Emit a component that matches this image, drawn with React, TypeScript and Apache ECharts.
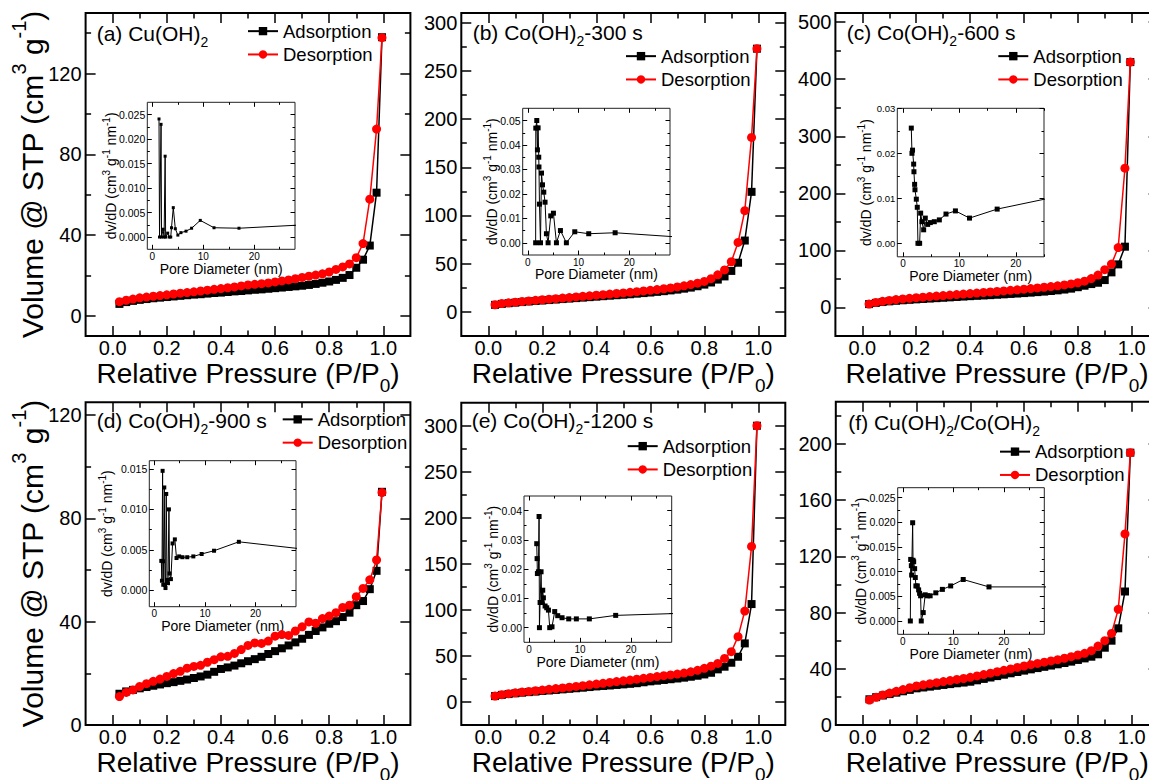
import React, { useEffect, useRef } from 'react';
import * as echarts from 'echarts';

// ---------------- DATA ----------------
const P = [0.025, 0.05, 0.075, 0.1, 0.125, 0.15, 0.175, 0.2, 0.225, 0.25, 0.275, 0.3, 0.325, 0.35, 0.375, 0.4, 0.425, 0.45, 0.475, 0.5, 0.525, 0.55, 0.575, 0.6, 0.625, 0.65, 0.675, 0.7, 0.725, 0.75, 0.775, 0.8, 0.825, 0.85, 0.875, 0.9, 0.925, 0.95, 0.975, 0.995];

const adsA = [5.9, 6.8, 7.4, 7.9, 8.3, 8.7, 9.0, 9.3, 9.6, 9.9, 10.2, 10.5, 10.7, 11.0, 11.3, 11.5, 11.8, 12.1, 12.3, 12.6, 12.9, 13.1, 13.4, 13.7, 14.0, 14.3, 14.6, 14.9, 15.3, 15.8, 16.4, 17.0, 17.8, 18.8, 20.2, 23.8, 27.8, 34.8, 61.0, 138.0];
const desA = [7.0, 7.7, 8.3, 8.9, 9.3, 9.7, 10.0, 10.4, 10.8, 11.2, 11.5, 11.9, 12.3, 12.7, 13.1, 13.5, 13.9, 14.3, 14.8, 15.3, 15.6, 15.9, 16.3, 16.8, 17.3, 17.8, 18.4, 19.0, 19.6, 20.2, 20.8, 21.7, 23.0, 24.2, 25.7, 28.8, 35.8, 57.8, 92.5, 137.8];

const adsB = [7.3, 8.3, 9.0, 9.6, 10.2, 10.8, 11.3, 11.8, 12.3, 12.8, 13.3, 13.8, 14.3, 14.8, 15.3, 15.8, 16.3, 16.8, 17.3, 17.8, 18.3, 18.9, 19.5, 20.1, 20.8, 21.5, 22.3, 23.1, 24.1, 25.2, 26.6, 28.3, 30.5, 33.5, 36.8, 42.5, 51, 74, 124.5, 273];
const desB = [7.4, 8.6, 9.4, 10.1, 10.8, 11.4, 12.0, 12.6, 13.2, 13.7, 14.3, 14.9, 15.5, 16.1, 16.7, 17.3, 17.9, 18.5, 19.1, 19.7, 20.3, 21.0, 21.7, 22.4, 23.2, 24.0, 24.9, 25.9, 27.0, 28.3, 29.8, 31.6, 34.5, 38.5, 43.5, 52, 72, 105, 181, 273];

const adsC = [5.9, 8.0, 9.5, 10.7, 11.7, 12.6, 13.4, 14.2, 14.9, 15.6, 16.3, 17.0, 17.7, 18.4, 19.1, 19.8, 20.4, 21.0, 21.6, 22.3, 23.0, 23.7, 24.4, 25.2, 26.0, 26.9, 27.8, 28.8, 30.0, 31.4, 33.0, 35.5, 38.1, 41.0, 43.3, 48.0, 61.5, 75.5, 106.5, 430];
const desC = [5.9, 8.8, 10.8, 12.4, 13.8, 15.0, 16.1, 17.1, 18.1, 19.0, 19.9, 20.8, 21.7, 22.6, 23.5, 24.4, 25.3, 26.2, 27.1, 28.0, 29.0, 30.0, 31.0, 32.0, 33.1, 34.2, 35.4, 36.6, 38.0, 39.5, 41.2, 43.3, 46.0, 50.6, 56.8, 66.2, 76.0, 105, 244, 430];

const adsD = [12.1, 13.0, 13.6, 14.2, 14.7, 15.2, 15.7, 16.2, 16.6, 17.1, 17.6, 18.2, 18.8, 19.5, 20.6, 21.7, 22.3, 23.0, 23.9, 24.7, 25.5, 26.4, 27.5, 28.6, 29.7, 30.8, 32.0, 33.4, 34.9, 36.4, 37.8, 39.2, 40.2, 41.8, 43.5, 46.4, 48.0, 52.6, 59.7, 90.3];
const desD = [11.0, 12.6, 13.6, 14.9, 16.0, 16.9, 17.8, 18.8, 19.9, 20.8, 22.0, 22.7, 23.1, 24.3, 25.3, 26.4, 26.6, 27.7, 29.2, 30.8, 31.8, 31.6, 32.5, 34.4, 35.0, 34.7, 36.4, 38.0, 39.9, 39.4, 41.2, 42.2, 43.5, 45.5, 46.4, 49.7, 52.9, 56.2, 63.9, 90.0];

const adsE = [6.5, 7.8, 8.7, 9.5, 10.2, 10.8, 11.4, 12.0, 12.6, 13.2, 13.8, 14.4, 15.0, 15.6, 16.3, 17.0, 17.5, 18.0, 18.6, 19.2, 19.8, 20.5, 21.5, 22.5, 23.2, 24.0, 24.8, 25.6, 26.5, 27.5, 28.6, 30.0, 31.8, 35.5, 38.4, 42.7, 49.2, 63.7, 106.4, 300];
const desE = [6.5, 8.0, 9.1, 10.0, 10.8, 11.6, 12.3, 13.0, 13.8, 14.6, 15.4, 16.2, 17.0, 17.8, 18.7, 19.5, 20.4, 21.3, 22.2, 23.1, 23.9, 24.8, 25.8, 26.8, 27.7, 28.6, 29.5, 30.4, 31.5, 32.8, 34.5, 36.6, 39.0, 42.0, 47.4, 54.7, 71.0, 98.8, 169, 300];

const adsF = [18.3, 19.8, 21.0, 22.0, 23.0, 24.0, 25.0, 26.1, 26.7, 27.3, 27.9, 28.5, 29.1, 29.7, 30.2, 30.8, 31.8, 32.8, 33.8, 34.8, 35.8, 36.8, 37.7, 38.7, 39.6, 40.5, 41.4, 42.3, 43.2, 44.1, 45.1, 46.3, 47.4, 48.6, 50.3, 55.0, 60.0, 68.8, 95.0, 193.8];
const desF = [17.8, 19.7, 21.4, 22.7, 24.0, 25.2, 26.5, 27.8, 28.6, 29.4, 30.1, 30.9, 31.6, 32.4, 33.1, 33.9, 34.9, 35.9, 36.9, 37.9, 38.9, 39.9, 41.0, 42.0, 42.9, 43.8, 44.7, 45.6, 46.5, 47.5, 48.6, 49.8, 51.0, 52.9, 56.2, 60.0, 65.2, 82.3, 136, 193.8];

// Pore size distributions (insets)
const poreA = [1.3, 1.4, 1.7, 1.8, 2.1, 2.3, 2.5, 2.6, 3.0, 3.3, 3.6, 3.75, 4.1, 4.5, 5.0, 5.6, 6.6, 7.7, 9.4, 12.1, 17.0, 40];
const dvA = [0.0241, 0, 0.023, 0, 0.0016, 0, 0.0165, 0, 0.0008, 0, 0, 0.0019, 0.006, 0.0017, 0.0004, 0.0009, 0.0012, 0.0018, 0.0034, 0.0019, 0.0018, 0.00305];

const poreB = [1.55, 1.58, 1.77, 1.9, 2.03, 2.16, 2.2, 2.3, 2.5, 2.7, 2.9, 3.15, 3.4, 3.67, 4.0, 4.52, 5.05, 5.64, 6.43, 7.6, 9.25, 12.0, 17.2, 40];
const dvB = [0, 0.0469, 0.05, 0.038, 0.047, 0.035, 0.031, 0.0158, 0, 0.0285, 0.0237, 0.0207, 0.0166, 0.0037, 0, 0.011, 0.0121, 0, 0.005, 0, 0.0045, 0.0037, 0.0041, 0.0009];

const poreC = [1.48, 1.6, 1.7, 1.9, 1.95, 2.07, 2.13, 2.37, 2.54, 2.66, 2.96, 3.14, 3.37, 3.67, 3.96, 4.38, 4.85, 5.56, 6.45, 7.63, 9.3, 11.8, 16.7, 35];
const dvC = [0.0256, 0.02, 0.0207, 0.0176, 0.0159, 0.0131, 0.0119, 0.0098, 0.008, 0, 0, 0.0067, 0.0048, 0.003, 0.0056, 0.0042, 0.0046, 0.0048, 0.0052, 0.0065, 0.0072, 0.0056, 0.0076, 0.0124];

const poreD = [1.37, 1.5, 1.63, 1.7, 1.76, 1.96, 2.1, 2.2, 2.35, 2.5, 2.7, 2.88, 3.0, 3.27, 3.6, 4.05, 4.38, 4.9, 5.55, 6.5, 7.7, 9.35, 11.8, 16.7, 40];
const dvD = [0.00365, 0.0012, 0.01475, 0.0036, 0.0007, 0.0127, 0.0007, 0.0003, 0.0119, 0.0013, 0.0009, 0.01, 0.0021, 0.0014, 0.0058, 0.0063, 0.004, 0.0042, 0.0041, 0.0041, 0.0042, 0.0045, 0.0049, 0.006, 0.00436];

const poreE = [1.5, 1.57, 1.63, 1.83, 1.96, 2.03, 2.16, 2.35, 2.48, 2.68, 2.81, 3.14, 3.46, 3.8, 4.05, 4.5, 5.03, 5.62, 6.47, 7.78, 9.28, 11.83, 17, 40];
const dvE = [0.0287, 0.0236, 0.0185, 0.0191, 0.038, 0, 0.0086, 0.0191, 0.0086, 0.0128, 0.0102, 0.0074, 0.0068, 0.006, 0, 0.0003, 0.0055, 0.0041, 0.0034, 0.003, 0.003, 0.003, 0.0042, 0.00545];

const poreF = [1.5, 1.57, 1.7, 1.76, 1.96, 2.03, 2.16, 2.35, 2.48, 2.6, 2.88, 3.14, 3.33, 3.53, 3.66, 4.05, 4.44, 4.9, 5.42, 6.54, 7.84, 9.48, 11.96, 17.06, 40];
const dvF = [0, 0.01247, 0.0112, 0.0093, 0.0199, 0.0123, 0.012, 0.0106, 0.0088, 0.0071, 0.0071, 0.0063, 0.0056, 0.0051, 0, 0.0017, 0.0053, 0.0051, 0.0051, 0.0057, 0.0064, 0.0071, 0.0084, 0.0069, 0.0069];

// Tick labels
const X_MAIN_LABELS = [0, 0.2, 0.4, 0.6, 0.8, 1.0];
const X_MAIN_MINOR = [0.1, 0.3, 0.5, 0.7, 0.9];
const Y_A_LABELS = [0, 40, 80, 120];
const Y_A_MINOR = [20, 60, 100, 140];
const Y_B_LABELS = [0, 50, 100, 150, 200, 250, 300];
const Y_B_MINOR = [25, 75, 125, 175, 225, 275];
const Y_C_LABELS = [0, 100, 200, 300, 400, 500];
const Y_C_MINOR = [50, 150, 250, 350, 450];
const Y_D_LABELS = [0, 40, 80, 120];
const Y_D_MINOR = [20, 60, 100];
const Y_E_LABELS = [0, 50, 100, 150, 200, 250, 300];
const Y_E_MINOR = [25, 75, 125, 175, 225, 275];
const Y_F_LABELS = [0, 40, 80, 120, 160, 200];
const Y_F_MINOR = [20, 60, 100, 140, 180, 220];
const X_IN_LABELS = [0, 10, 20];
const X_IN_MINOR = [5, 15, 25];
const YI_A_LABELS = [0, 0.005, 0.01, 0.015, 0.02, 0.025];
const YI_A_MINOR = [0.0025, 0.0075, 0.0125, 0.0175, 0.0225];
const YI_B_LABELS = [0, 0.01, 0.02, 0.03, 0.04, 0.05];
const YI_B_MINOR = [0.005, 0.015, 0.025, 0.035, 0.045];
const YI_C_LABELS = [0, 0.01, 0.02, 0.03];
const YI_C_MINOR = [0.005, 0.015, 0.025];
const YI_D_LABELS = [0, 0.005, 0.01, 0.015];
const YI_D_MINOR = [0.0025, 0.0075, 0.0125];
const YI_E_LABELS = [0, 0.01, 0.02, 0.03, 0.04];
const YI_E_MINOR = [0.005, 0.015, 0.025, 0.035];
const YI_F_LABELS = [0, 0.005, 0.01, 0.015, 0.02, 0.025];
const YI_F_MINOR = [0.0025, 0.0075, 0.0125, 0.0175, 0.0225];

const LABELS = [
  '{n|(a) Cu(OH)}{s|2}',
  '{n|(b) Co(OH)}{s|2}{n|-300 s}',
  '{n|(c) Co(OH)}{s|2}{n|-600 s}',
  '{n|(d) Co(OH)}{s|2}{n|-900 s}',
  '{n|(e) Co(OH)}{s|2}{n|-1200 s}',
  '{n|(f) Cu(OH)}{s|2}{n|/Co(OH)}{s|2}',
];

// ---------------- LAYOUT ----------------
const FONT = "'Liberation Sans', Arial, Helvetica, sans-serif";

const PANELS: any[] = [
  { g: [85.6, 13, 324.8, 323], y: [-10, 150], yl: Y_A_LABELS, ym: Y_A_MINOR, yName: true, ads: adsA, des: desA, lp: [96.7, 17.5], leg: [247, 19.5],
    ig: [147.3, 102.3, 147.7, 147], ix: [-1, 28], iy: [-0.0025, 0.0275], iyl: YI_A_LABELS, iym: YI_A_MINOR, idec: 3, iGap: 26, ifs: 10.5, iD: poreA, iV: dvA, isz: 3 },
  { g: [461.3, 13, 324, 323], y: [-25, 310], yl: Y_B_LABELS, ym: Y_B_MINOR, yName: false, ads: adsB, des: desB, lp: [472.7, 17], leg: [625, 44.5],
    ig: [522.7, 108.3, 147.3, 146.7], ix: [-1, 28], iy: [-0.005, 0.055], iyl: YI_B_LABELS, iym: YI_B_MINOR, idec: 2, iGap: 20.5, ifs: 10.5, iD: poreB, iV: dvB, isz: 5 },
  { g: [835.4, 13, 323.2, 323], y: [-50, 516], yl: Y_C_LABELS, ym: Y_C_MINOR, yName: false, ads: adsC, des: desC, lp: [846.7, 17], leg: [997.3, 44.5],
    ig: [897.3, 108.3, 146.7, 148.5], ix: [-1, 25], iy: [-0.003, 0.03], iyl: YI_C_LABELS, iym: YI_C_MINOR, idec: 2, iGap: 21, ifs: 9.5, iD: poreC, iV: dvC, isz: 5 },
  { g: [85.6, 402.2, 324.8, 322.8], y: [0, 125], yl: Y_D_LABELS, ym: Y_D_MINOR, yName: true, ads: adsD, des: desD, lp: [96.7, 404.5], leg: [281.7, 407.7],
    ig: [149.3, 460.7, 146.7, 146], ix: [-1, 28], iy: [-0.002, 0.016], iyl: YI_D_LABELS, iym: YI_D_MINOR, idec: 3, iGap: 32, ifs: 10.5, iD: poreD, iV: dvD, isz: 4 },
  { g: [461.3, 402.7, 324, 322.4], y: [-25, 325], yl: Y_E_LABELS, ym: Y_E_MINOR, yName: false, ads: adsE, des: desE, lp: [471.7, 405.3], leg: [626.7, 434.5],
    ig: [524, 496, 147.7, 146.3], ix: [-1, 28], iy: [-0.005, 0.045], iyl: YI_E_LABELS, iym: YI_E_MINOR, idec: 2, iGap: 21, ifs: 10.5, iD: poreE, iV: dvE, isz: 5 },
  { g: [835.8, 401.8, 322.8, 323.2], y: [0, 230], yl: Y_F_LABELS, ym: Y_F_MINOR, yName: false, ads: adsF, des: desF, lp: [848.3, 407], leg: [999, 440],
    ig: [897.7, 487.7, 146.6, 146.6], ix: [-1, 28], iy: [-0.0027, 0.027], iyl: YI_F_LABELS, iym: YI_F_MINOR, idec: 3, iGap: 27, ifs: 10.5, iD: poreF, iV: dvF, isz: 5 },
];

function axisSet(dim: 'x' | 'y', grid: number, s: any) {
  const p1 = dim === 'x' ? 'bottom' : 'left';
  const p2 = dim === 'x' ? 'top' : 'right';
  const base = (position: string, ticks: number[], len: number, labels: boolean) => ({
    type: 'value',
    gridIndex: grid,
    position,
    min: s.min,
    max: s.max,
    axisLine: { show: false, onZero: false },
    splitLine: { show: false },
    axisPointer: { show: false },
    nameMoveOverlap: false,
    axisTick: { show: true, inside: true, length: len, customValues: ticks, lineStyle: { color: '#000', width: s.w } },
    axisLabel: labels
      ? { show: true, customValues: s.labels, formatter: (v: number) => v.toFixed(s.dec), fontSize: s.fs, fontFamily: FONT, color: '#000', margin: s.margin, hideOverlap: false }
      : { show: false },
  });
  const prim: any = base(p1, s.labels, s.majLen, true);
  if (s.name) {
    prim.name = s.name;
    prim.nameLocation = 'middle';
    prim.nameGap = s.nameGap;
    prim.nameTextStyle = s.nameStyle;
  }
  return [prim, base(p1, s.minor, s.minLen, false), base(p2, s.labels, s.majLen, false), base(p2, s.minor, s.minLen, false)];
}

const xNameStyle = {
  fontSize: 28, fontFamily: FONT, color: '#000',
  rich: {
    n: { fontSize: 28, fontFamily: FONT, color: '#000', lineHeight: 26 },
    s: { fontSize: 19, fontFamily: FONT, color: '#000', lineHeight: 43, verticalAlign: 'bottom' },
  },
};
const yNameStyle = {
  fontSize: 30, fontFamily: FONT, color: '#000',
  rich: {
    n: { fontSize: 30, fontFamily: FONT, color: '#000', lineHeight: 30 },
    p: { fontSize: 20, fontFamily: FONT, color: '#000', lineHeight: 47, verticalAlign: 'top' },
  },
};
const iyNameStyle = {
  fontSize: 14, fontFamily: FONT, color: '#000',
  rich: {
    n: { fontSize: 14, fontFamily: FONT, color: '#000', lineHeight: 16 },
    p: { fontSize: 10, fontFamily: FONT, color: '#000', lineHeight: 20, verticalAlign: 'top' },
  },
};
const ixNameStyle = { fontSize: 14, fontFamily: FONT, color: '#000', lineHeight: 14 };

function buildOption() {
  const grid: any[] = [];
  const xAxis: any[] = [];
  const yAxis: any[] = [];
  const series: any[] = [];
  const title: any[] = [];
  const legend: any[] = [];

  PANELS.forEach((p, i) => {
    const gm = grid.length;
    grid.push({ left: p.g[0], top: p.g[1], width: p.g[2], height: p.g[3], show: true, borderColor: '#000', borderWidth: 2, backgroundColor: 'transparent', containLabel: false, outerBoundsMode: 'none' });
    const xa = xAxis.length;
    xAxis.push(...axisSet('x', gm, {
      min: -0.1, max: 1.1, labels: X_MAIN_LABELS, minor: X_MAIN_MINOR, dec: 1, fs: 20, margin: 2, majLen: 10, minLen: 5.5, w: 1.5,
      name: '{n|Relative Pressure (P/P}{s|0}{n|)}', nameGap: 15.5, nameStyle: xNameStyle,
    }));
    const ya = yAxis.length;
    yAxis.push(...axisSet('y', gm, {
      min: p.y[0], max: p.y[1], labels: p.yl, minor: p.ym, dec: 0, fs: 20, margin: 4, majLen: 10, minLen: 5.5, w: 1.5,
      name: p.yName ? '{n|Volume @ STP (cm}{p|3}{n| g}{p|-1}{n|)}' : undefined, nameGap: 30, nameStyle: yNameStyle,
    }));
    series.push({
      type: 'line', name: 'Adsorption', xAxisIndex: xa, yAxisIndex: ya, data: P.map((v, k) => [v, p.ads[k]]),
      symbol: 'rect', symbolSize: 8, showAllSymbol: true, itemStyle: { color: '#000' }, lineStyle: { color: '#000', width: 1.5 },
      silent: true, emphasis: { disabled: true }, z: 3,
    });
    series.push({
      type: 'line', name: 'Desorption', xAxisIndex: xa, yAxisIndex: ya, data: P.map((v, k) => [v, p.des[k]]),
      symbol: 'circle', symbolSize: 9, showAllSymbol: true, itemStyle: { color: '#ff0000' }, lineStyle: { color: '#ff0000', width: 1.5 },
      silent: true, emphasis: { disabled: true }, z: 4,
    });

    // inset
    const gi = grid.length;
    grid.push({ left: p.ig[0], top: p.ig[1], width: p.ig[2], height: p.ig[3], show: true, borderColor: '#222', borderWidth: 1, backgroundColor: 'transparent', containLabel: false, outerBoundsMode: 'none' });
    const xi = xAxis.length;
    xAxis.push(...axisSet('x', gi, {
      min: p.ix[0], max: p.ix[1], labels: X_IN_LABELS, minor: X_IN_MINOR, dec: 0, fs: 10, margin: 2, majLen: 4.5, minLen: 2.5, w: 1,
      name: 'Pore Diameter (nm)', nameGap: 12.2, nameStyle: ixNameStyle,
    }));
    const yi = yAxis.length;
    yAxis.push(...axisSet('y', gi, {
      min: p.iy[0], max: p.iy[1], labels: p.iyl, minor: p.iym, dec: p.idec, fs: p.ifs, margin: 2, majLen: 4.5, minLen: 2.5, w: 1,
      name: '{n|dv/dD (cm}{p|3}{n| g}{p|-1}{n| nm}{p|-1}{n|)}', nameGap: p.iGap, nameStyle: iyNameStyle,
    }));
    series.push({
      type: 'line', name: 'PSD' + i, xAxisIndex: xi, yAxisIndex: yi, data: p.iD.map((v: number, k: number) => [v, p.iV[k]]),
      symbol: 'rect', symbolSize: p.isz, showAllSymbol: true, itemStyle: { color: '#000' }, lineStyle: { color: '#000', width: 1 },
      silent: true, emphasis: { disabled: true }, clip: true, z: 3,
    });

    title.push({
      text: LABELS[i], left: p.lp[0], top: p.lp[1], padding: 0,
      textStyle: {
        fontSize: 21, fontWeight: 'normal', fontFamily: FONT, color: '#000',
        rich: {
          n: { fontSize: 21, fontFamily: FONT, color: '#000', lineHeight: 20 },
          s: { fontSize: 14, fontFamily: FONT, color: '#000', lineHeight: 31, verticalAlign: 'bottom' },
        },
      },
    });
    legend.push({
      data: ['Adsorption', 'Desorption'], orient: 'vertical', left: p.leg[0], top: p.leg[1], padding: 0,
      itemWidth: 30, itemHeight: 10.5, itemGap: 0, selectedMode: false,
      textStyle: { fontSize: 18.5, fontFamily: FONT, color: '#000', lineHeight: 23.3, padding: [0, 0, 0, 0] },
    });
  });

  return { animation: false, backgroundColor: '#fff', grid, xAxis, yAxis, series, title, legend };
}

export default function App() {
  const ref = useRef<HTMLDivElement>(null);
  useEffect(() => {
    if (!ref.current) return;
    const chart = echarts.init(ref.current, undefined, { renderer: 'svg', width: 1170, height: 780 });
    chart.setOption(buildOption() as any);
    return () => chart.dispose();
  }, []);
  return (
    <div style={{ position: 'fixed', left: 0, top: 0, width: '100vw', height: '100vh', overflow: 'hidden', background: '#fff' }}>
      <div ref={ref} style={{ width: 1170, height: 780 }} />
    </div>
  );
}
